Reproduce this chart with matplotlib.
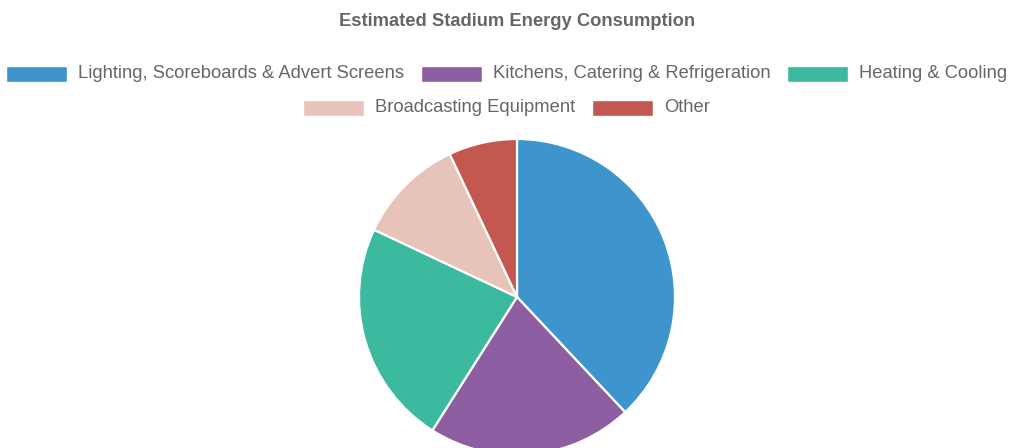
import matplotlib
matplotlib.use("Agg")
import matplotlib.pyplot as plt
from matplotlib.patches import Rectangle

categories = [
    "Lighting, Scoreboards & Advert Screens",
    "Kitchens, Catering & Refrigeration",
    "Heating & Cooling",
    "Broadcasting Equipment",
    "Other",
]
values = [38, 21, 23, 11, 7]
colors = ["#3e95cd", "#8e5ea2", "#3cba9f", "#e8c3b9", "#c45850"]
title = "Estimated Stadium Energy Consumption"

W, H = 1013, 448
fig = plt.figure(figsize=(W / 100, H / 100), dpi=100)
plt.rcParams["font.family"] = ["Liberation Sans", "DejaVu Sans"]
text_color = "#666666"

# pie axes: centre (517, 297) px from top, radius 158 px
cx, cy, r = 517, 297, 158
ax = fig.add_axes([(cx - r) / W, (H - cy - r) / H, 2 * r / W, 2 * r / H])
ax.pie(values, colors=colors, startangle=90, counterclock=False,
       wedgeprops=dict(edgecolor="white", linewidth=1.6))
ax.set_xlim(-1.0, 1.0)
ax.set_ylim(-1.0, 1.0)
ax.set_aspect("equal")
ax.axis("off")

fig.text(517 / W, 1 - 22 / H, title, ha="center", va="center",
         fontsize=13.2, fontweight="bold", color=text_color)

# legend laid out in two centred rows
font_px = 18.4
box_w, box_h = 61, 16
gap_box_text = 11
gap_items = 17
rows = [[0, 1, 2], [3, 4]]
row_y = [74, 108]

renderer = fig.canvas.get_renderer()

def text_width(s):
    t = fig.text(0, 0, s, fontsize=font_px * 0.72)
    w = t.get_window_extent(renderer=renderer).width
    t.remove()
    return w

for row, y in zip(rows, row_y):
    widths = [box_w + gap_box_text + text_width(categories[i]) for i in row]
    total = sum(widths) + gap_items * (len(row) - 1)
    x = (W - total) / 2
    for i, w in zip(row, widths):
        fig.add_artist(Rectangle((x / W, 1 - (y + box_h / 2) / H), box_w / W, box_h / H,
                                 transform=fig.transFigure, facecolor=colors[i],
                                 edgecolor="white", linewidth=1))
        fig.text((x + box_w + gap_box_text) / W, 1 - y / H, categories[i],
                 ha="left", va="center", fontsize=font_px * 0.72, color=text_color)
        x += w + gap_items

fig.savefig("out.png", dpi=100, facecolor="white")
